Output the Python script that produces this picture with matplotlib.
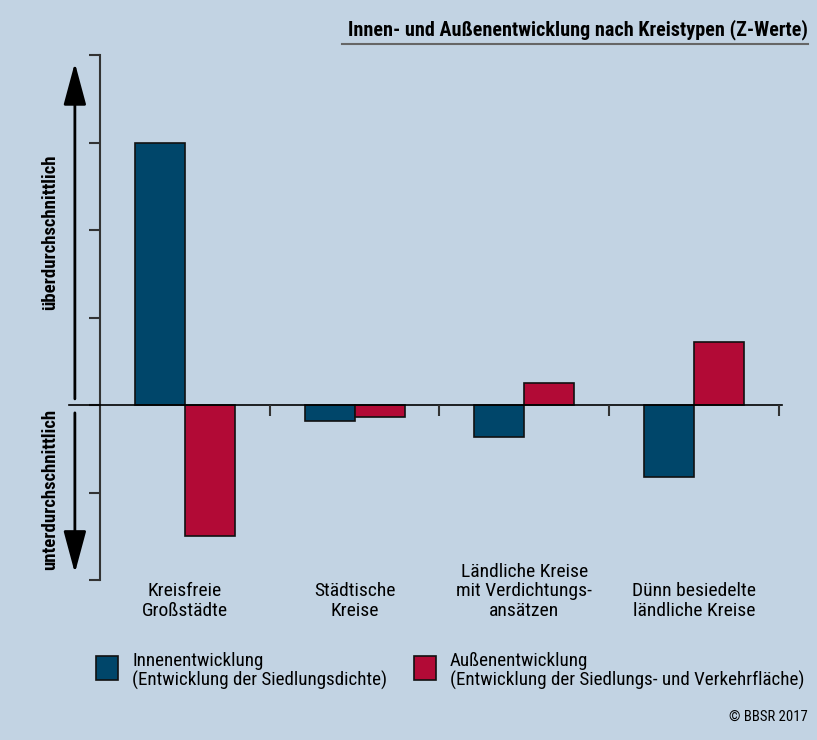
import numpy as np
import matplotlib
matplotlib.use('Agg')
import matplotlib.pyplot as plt
from matplotlib.patches import Rectangle
from matplotlib.lines import Line2D
from matplotlib import transforms
from matplotlib import font_manager

# Data (Z-Werte)
categories = ["Kreisfreie\nGroßstädte",
              "Städtische\nKreise",
              "Ländliche Kreise\nmit Verdichtungs-\nansätzen",
              "Dünn besiedelte\nländliche Kreise"]
innen = [3.0, -0.18, -0.37, -0.82]
aussen = [-1.5, -0.14, 0.25, 0.72]
series_labels = ["Innenentwicklung\n(Entwicklung der Siedlungsdichte)",
                 "Außenentwicklung\n(Entwicklung der Siedlungs- und Verkehrfläche)"]
title = "Innen- und Außenentwicklung nach Kreistypen (Z-Werte)"

bg = '#c2d3e3'
c_innen = '#00466a'
c_aussen = '#b20a36'

# pick a narrow font if there is one
names = {f.name for f in font_manager.fontManager.ttflist}
font = 'DejaVu Sans'
for cand in ['Roboto Condensed', 'Archivo Narrow', 'PT Sans Narrow',
             'Fira Sans Condensed', 'Barlow Semi Condensed', 'Liberation Sans Narrow']:
    if cand in names:
        font = cand
        break
plt.rcParams['font.family'] = [font, 'DejaVu Sans']

fig = plt.figure(figsize=(8.17, 7.4), dpi=100, facecolor=bg)
ax = fig.add_axes([100/817, 1-580/740, 679/817, 525/740])
ax.set_facecolor(bg)

x = np.arange(len(categories)) + 0.5
w = 0.295
ax.bar(x - w/2, innen, w, color=c_innen, edgecolor='#111111', linewidth=1.2, zorder=2)
ax.bar(x + w/2, aussen, w, color=c_aussen, edgecolor='#111111', linewidth=1.2, zorder=2)

ax.set_xlim(0, len(categories))
ax.set_ylim(-2, 4)
ax.set_yticks(np.arange(-2, 5))
ax.set_yticklabels([])
ax.set_xticks([])
for s in ['top', 'right', 'bottom']:
    ax.spines[s].set_visible(False)
ax.spines['left'].set_color('#333333')
ax.spines['left'].set_linewidth(1.5)
ax.tick_params(axis='y', direction='out', length=8, width=1.5, color='#333333')

# zero line and group separators
ax.axhline(0, xmin=-0.046, xmax=1.004, color='black', lw=1.2, clip_on=False, zorder=3)
ax.vlines(np.arange(1, len(categories) + 1), -0.13, 0, color='#333333', lw=1.5,
          clip_on=False, zorder=3)

# arrows left of the axis
bt = transforms.blended_transform_factory(ax.transAxes, ax.transData)
arrow = dict(arrowstyle='-|>,head_length=2.6,head_width=0.7', lw=2, color='black',
             mutation_scale=10, shrinkA=0, shrinkB=0)
ax.annotate('', xy=(-0.037, 3.91), xytext=(-0.037, 0.07), xycoords=bt, textcoords=bt,
            arrowprops=arrow, annotation_clip=False)
ax.annotate('', xy=(-0.037, -1.92), xytext=(-0.037, -0.09), xycoords=bt, textcoords=bt,
            arrowprops=arrow, annotation_clip=False)
ax.text(-0.074, 1.98, 'überdurchschnittlich', transform=bt, rotation=90,
        ha='center', va='center', fontsize=13.5, fontweight='bold')
ax.text(-0.074, -0.97, 'unterdurchschnittlich', transform=bt, rotation=90,
        ha='center', va='center', fontsize=13.5, fontweight='bold')

# category labels, bottom aligned
ct = transforms.blended_transform_factory(ax.transData, fig.transFigure)
for xi, lab in zip(x, categories):
    ax.text(xi, 1-620/740, lab, transform=ct, ha='center', va='bottom',
            multialignment='center', fontsize=14, linespacing=1.12)

# title with rule
fig.text(808/817, 1-30/740, title, ha='right', va='center', fontsize=14.5,
         fontweight='bold')
fig.add_artist(Line2D([342/817, 808/817], [1-44/740, 1-44/740], color='#666666', lw=1.5))

# legend
for i, (col, lab) in enumerate(zip([c_innen, c_aussen], series_labels)):
    x0 = [96, 414][i]
    fig.add_artist(Rectangle((x0/817, 1-680/740), 22/817, 24/740, facecolor=col,
                             edgecolor='#111111', lw=1.2))
    fig.text((x0 + 36)/817, 1-671/740, lab, ha='left', va='center', fontsize=13.7,
             linespacing=1.12)

fig.text(808/817, 1-717/740, '© BBSR 2017', ha='right', va='center', fontsize=10.5)

fig.savefig('out.png', dpi=100, facecolor=bg)
